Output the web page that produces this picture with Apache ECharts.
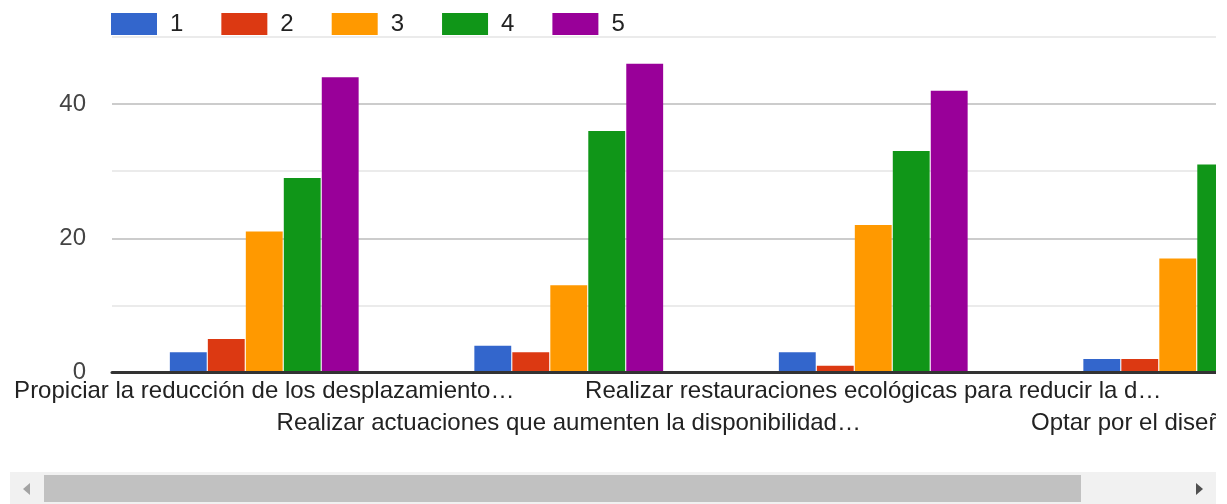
<!DOCTYPE html>
<html>
<head>
<meta charset="utf-8">
<script src="https://cdn.jsdelivr.net/npm/echarts@6/dist/echarts.min.js"></script>
<style>
  html, body { margin: 0; padding: 0; background: #fff; overflow: hidden; }
  #wrap { position: absolute; left: 0; top: 0; width: 1216px; height: 470px; overflow: hidden; }
  #chart { position: absolute; left: 0; top: 0; width: 1360px; height: 470px; }
  #track { position: absolute; left: 10px; top: 472px; width: 1206px; height: 32px; background: #f1f1f1; }
  #thumb { position: absolute; left: 44px; top: 475px; width: 1037px; height: 27px; background: #c1c1c1; }
  #arrL { position: absolute; left: 23px; top: 483px; width: 0; height: 0;
          border-top: 6px solid transparent; border-bottom: 6px solid transparent; border-right: 7px solid #a3a3a3; }
  #arrR { position: absolute; left: 1196px; top: 483px; width: 0; height: 0;
          border-top: 6px solid transparent; border-bottom: 6px solid transparent; border-left: 7px solid #505050; }
</style>
</head>
<body>
<div id="wrap"><div id="chart"></div></div>
<div id="track"></div>
<div id="thumb"></div>
<div id="arrL"></div>
<div id="arrR"></div>
<script>
// ---- data ----
const categories = [
  'Propiciar la reducción de los desplazamiento…',
  'Realizar actuaciones que aumenten la disponibilidad…',
  'Realizar restauraciones ecológicas para reducir la d…',
  'Optar por el diseño de es…'
];
const seriesNames = ['1', '2', '3', '4', '5'];
const values1 = [3, 4, 3, 2];
const values2 = [5, 3, 1, 2];
const values3 = [21, 13, 22, 17];
const values4 = [29, 36, 33, 31];
const values5 = [44, 46, 42, 45];
const yTickLabels = ['0', '20', '40'];

// ---- chart ----
const colors = ['#3366cc', '#dc3912', '#ff9900', '#109618', '#990099'];
const allValues = [values1, values2, values3, values4, values5];
const FONT = 'Arial, "Liberation Sans", sans-serif';
const FS = 24;

const chart = echarts.init(document.getElementById('chart'), null, { renderer: 'canvas' });
chart.setOption({
  animation: false,
  color: colors,
  textStyle: { fontFamily: FONT },
  legend: {
    left: 111,
    top: 12,
    padding: 0,
    itemWidth: 46,
    itemHeight: 22,
    itemGap: 38,
    icon: 'rect',
    data: seriesNames,
    textStyle: { fontSize: FS, color: '#222', fontFamily: FONT, padding: [0, 0, 0, 8] }
  },
  grid: { left: 112, right: 30, top: 37, height: 335.5, containLabel: false },
  xAxis: {
    type: 'category',
    data: categories,
    z: 3,
    axisLine: { show: true, lineStyle: { color: '#333', width: 3 } },
    axisTick: { show: false },
    splitLine: { show: false },
    axisLabel: {
      interval: 0,
      margin: 3,
      fontSize: FS,
      lineHeight: 32,
      color: '#222',
      fontFamily: FONT,
      formatter: function (v, i) { return i % 2 === 1 ? '\n' + v : v; }
    }
  },
  yAxis: {
    type: 'value',
    min: 0,
    max: 50,
    interval: 10,
    axisLine: { show: false },
    axisTick: { show: false },
    splitLine: { show: true, lineStyle: { color: ['#cccccc', '#ebebeb'], width: 2 } },
    axisLabel: {
      margin: 26,
      fontSize: FS,
      color: '#444',
      fontFamily: FONT,
      formatter: function (v) { return yTickLabels.indexOf(String(v)) >= 0 ? String(v) : ''; }
    }
  },
  series: seriesNames.map(function (n, k) {
    return {
      name: n,
      type: 'bar',
      data: allValues[k],
      barCategoryGap: '38%',
      barGap: '3%',
      itemStyle: { color: colors[k] }
    };
  })
});
</script>
</body>
</html>
